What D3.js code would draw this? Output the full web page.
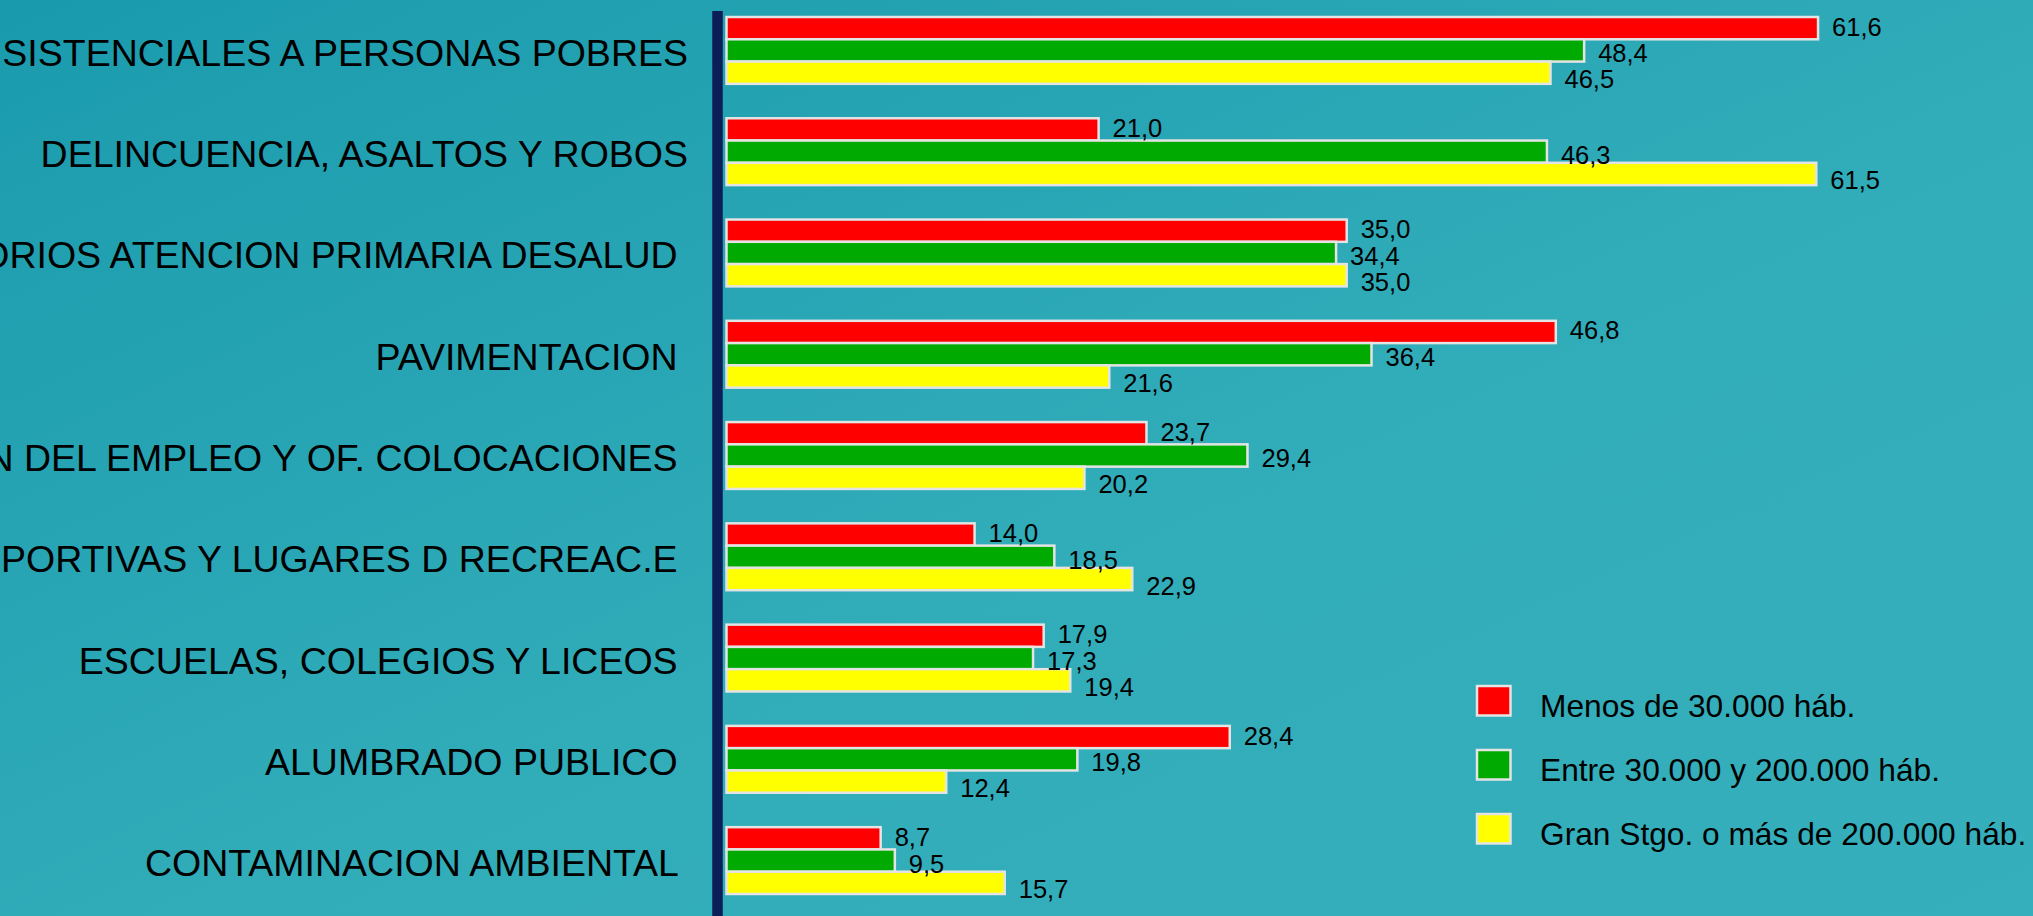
<!DOCTYPE html>
<meta charset="utf-8">
<style>
body { margin: 0; overflow: hidden; }
text { font-family: "Liberation Sans", Arial, sans-serif; fill: #000; white-space: pre; }
.bar { stroke: #e4e4e4; stroke-width: 2.5px; }
</style>
<body>
<script src="https://d3js.org/d3.v7.min.js"></script>
<script>

//
// Data
//

var categories = [
  "SISTENCIALES A PERSONAS POBRES",
  "DELINCUENCIA, ASALTOS Y ROBOS",
  "ORIOS ATENCION PRIMARIA DESALUD ",
  "PAVIMENTACION ",
  "N DEL EMPLEO Y OF. COLOCACIONES ",
  "PORTIVAS Y LUGARES D RECREAC.E ",
  "ESCUELAS, COLEGIOS Y LICEOS ",
  "ALUMBRADO PUBLICO ",
  "CONTAMINACION AMBIENTAL "
];

var seriesNames = ["Menos de 30.000 háb.", "Entre 30.000 y 200.000 háb.", "Gran Stgo. o más de 200.000 háb."];

var menos30 = [61.6, 21.0, 35.0, 46.8, 23.7, 14.0, 17.9, 28.4, 8.7];
var entre30y200 = [48.4, 46.3, 34.4, 36.4, 29.4, 18.5, 17.3, 19.8, 9.5];
var granStgo = [46.5, 61.5, 35.0, 21.6, 20.2, 22.9, 19.4, 12.4, 15.7];

var seriesValues = [menos30, entre30y200, granStgo];
var colors = ["#ff0000", "#00aa00", "#ffff00"];

//
// Constants
//

var width = 2033;
var height = 916;
var labelShift = [7.5, 12, 15.5];   // value labels sit a little lower on each bar

var fmt = d3.formatLocale({decimal: ",", thousands: ".", grouping: [3], currency: ["", ""]}).format(".1f");

//
// Scales
//

var x = d3.scaleLinear().domain([0, 60]).range([726.5, 1789.7]);

var y = d3.scaleBand()
    .domain(d3.range(categories.length))
    .range([17, 894])
    .paddingInner(0.34)
    .paddingOuter(0);

var ySub = d3.scaleBand()
    .domain(d3.range(seriesNames.length))
    .range([0, y.bandwidth()]);

//
// SVG and background
//

var svg = d3.select("body").append("svg")
    .attr("width", width)
    .attr("height", height);

var grad = svg.append("defs").append("linearGradient")
    .attr("id", "bg")
    .attr("x1", 0).attr("y1", 0)
    .attr("x2", 1).attr("y2", 1);
grad.append("stop").attr("offset", 0).attr("stop-color", "#1a9bad");
grad.append("stop").attr("offset", 0.55).attr("stop-color", "#31acb9");
grad.append("stop").attr("offset", 1).attr("stop-color", "#35afbb");

svg.append("rect")
    .attr("width", width)
    .attr("height", height)
    .attr("fill", "url(#bg)");

// vertical axis line
svg.append("line")
    .attr("x1", 717.5).attr("x2", 717.5)
    .attr("y1", 11).attr("y2", height)
    .attr("stroke", "#0c1e58")
    .attr("stroke-width", 10.5);

//
// Category labels
//

svg.selectAll(".cat").data(categories)
  .enter().append("text")
    .attr("class", "cat")
    .attr("x", 688)
    .attr("y", (d, i) => y(i) + y.bandwidth() / 2 + 15.5)
    .attr("text-anchor", "end")
    .attr("font-size", "37.5px")
    .text(d => d);

//
// Bars
//

var groups = svg.selectAll(".group").data(categories)
  .enter().append("g")
    .attr("class", "group")
    .attr("transform", (d, i) => `translate(0,${y(i)})`);

groups.selectAll(".bar")
    .data((d, i) => seriesValues.map((s, j) => ({s: j, v: s[i]})))
  .enter().append("rect")
    .attr("class", "bar")
    .attr("x", x(0))
    .attr("y", d => ySub(d.s))
    .attr("width", d => x(d.v) - x(0))
    .attr("height", ySub.bandwidth())
    .attr("fill", d => colors[d.s]);

groups.selectAll(".val")
    .data((d, i) => seriesValues.map((s, j) => ({s: j, v: s[i]})))
  .enter().append("text")
    .attr("class", "val")
    .attr("x", d => x(d.v) + 14)
    .attr("y", d => ySub(d.s) + ySub.bandwidth() / 2 + labelShift[d.s])
    .attr("font-size", "25.5px")
    .text(d => fmt(d.v));

//
// Legend
//

var legend = svg.selectAll(".legend").data(seriesNames)
  .enter().append("g")
    .attr("class", "legend")
    .attr("transform", (d, i) => `translate(1477,${686 + i * 64})`);

legend.append("rect")
    .attr("class", "bar")
    .attr("width", 33.5)
    .attr("height", 29.5)
    .attr("fill", (d, i) => colors[i]);

legend.append("text")
    .attr("x", 63)
    .attr("y", 30.5)
    .attr("font-size", "31.7px")
    .text(d => d);

</script>
</body>
